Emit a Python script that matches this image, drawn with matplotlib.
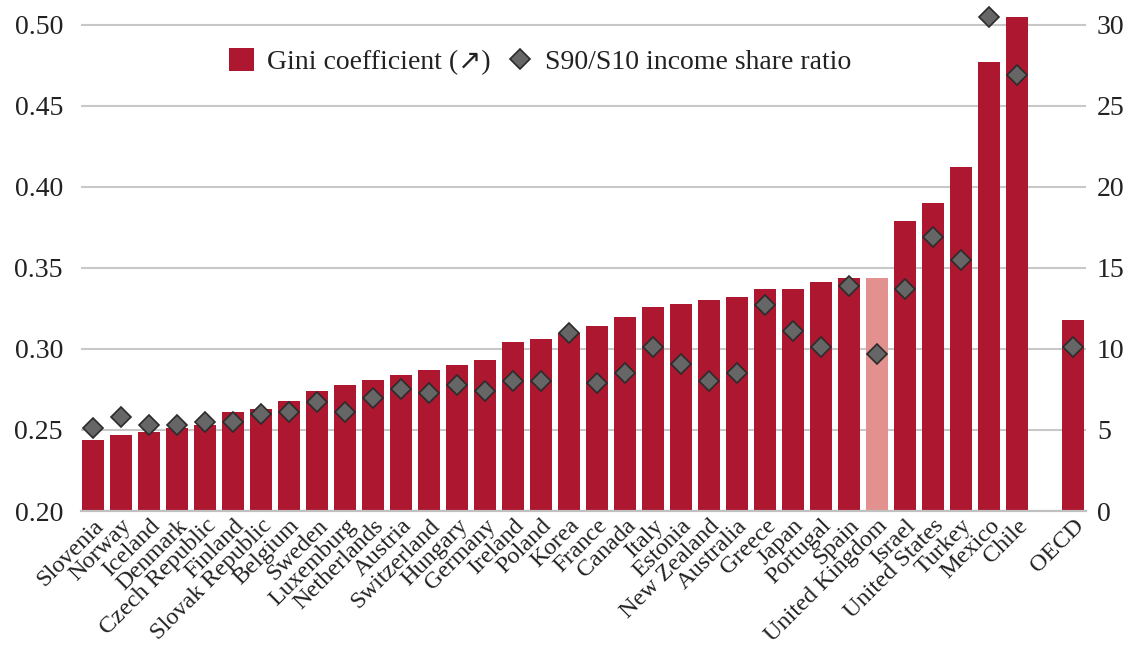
import matplotlib
matplotlib.use('Agg')
import matplotlib.pyplot as plt
from matplotlib.patches import Patch
from matplotlib.lines import Line2D

countries = ["Slovenia", "Norway", "Iceland", "Denmark", "Czech Republic", "Finland",
             "Slovak Republic", "Belgium", "Sweden", "Luxemburg", "Netherlands", "Austria",
             "Switzerland", "Hungary", "Germany", "Ireland", "Poland", "Korea", "France",
             "Canada", "Italy", "Estonia", "New Zealand", "Australia", "Greece", "Japan",
             "Portugal", "Spain", "United Kingdom", "Israel", "United States", "Turkey",
             "Mexico", "Chile", "OECD"]
gini = [0.244, 0.247, 0.249, 0.251, 0.253, 0.261, 0.263, 0.268, 0.274, 0.278, 0.281, 0.284,
        0.287, 0.290, 0.293, 0.304, 0.306, 0.310, 0.314, 0.320, 0.326, 0.328, 0.330, 0.332,
        0.337, 0.337, 0.341, 0.344, 0.344, 0.379, 0.390, 0.412, 0.477, 0.505, 0.318]
s90s10 = [5.1, 5.8, 5.3, 5.3, 5.5, 5.5, 6.0, 6.1, 6.7, 6.1, 7.0, 7.5,
          7.3, 7.8, 7.4, 8.0, 8.0, 11.0, 7.9, 8.5, 10.1, 9.1, 8.0, 8.5,
          12.7, 11.1, 10.1, 13.9, 9.7, 13.7, 16.9, 15.5, 30.5, 26.9, 10.1]
highlight = "United Kingdom"

# OECD average sits after a one-slot gap
pos = list(range(len(countries) - 1)) + [len(countries)]

red = '#AE1730'
pink = '#E3918E'
colors = [pink if c == highlight else red for c in countries]

plt.rcParams['font.family'] = ['Liberation Serif', 'DejaVu Sans']

fig = plt.figure(figsize=(11.3, 6.5), dpi=100)
ax = fig.add_axes([0.0717, 0.2138, 0.8893, 0.7855])
ax2 = ax.twinx()

ax.bar(pos, [g - 0.2 for g in gini], bottom=0.2, width=0.79, color=colors, zorder=2)
ax2.plot(pos, s90s10, linestyle='none', marker='D', markersize=10, markerfacecolor='#666666',
         markeredgecolor='#2b2b2b', markeredgewidth=1.2, clip_on=False, zorder=3)

ax.set_xlim(-0.43, 35.46)
ax.set_ylim(0.2, 0.515)
ax2.set_ylim(0, 31.5)
ax.set_yticks([0.20, 0.25, 0.30, 0.35, 0.40, 0.45, 0.50])
ax.set_yticklabels(['0.20', '0.25', '0.30', '0.35', '0.40', '0.45', '0.50'])
ax2.set_yticks([0, 5, 10, 15, 20, 25, 30])

ax.set_axisbelow(True)
ax.grid(axis='y', color='#c8c8c8', linewidth=1.5)
for a in (ax, ax2):
    for s in ('top', 'left', 'right'):
        a.spines[s].set_visible(False)
    a.spines['bottom'].set_color('#c0c0c0')
    a.spines['bottom'].set_linewidth(1.5)
ax.tick_params(axis='y', length=0, pad=13, labelsize=20, labelcolor='#222222')
ax2.tick_params(axis='y', length=0, pad=8, labelsize=20, labelcolor='#222222')

ax.set_xticks(pos)
ax.set_xticklabels(countries, rotation=45, ha='right', rotation_mode='anchor',
                   fontsize=17.5, color='#222222')
ax.tick_params(axis='x', length=0, pad=3)

handles = [Patch(facecolor=red, edgecolor='none'),
           Line2D([], [], linestyle='none', marker='D', markersize=10,
                  markerfacecolor='#666666', markeredgecolor='#2b2b2b', markeredgewidth=1.2)]
ax2.legend(handles, ['Gini coefficient (\u2197)', 'S90/S10 income share ratio'],
           loc='center', bbox_to_anchor=(0.478, 0.905), bbox_transform=fig.transFigure,
           ncol=2, frameon=False, fontsize=20, handlelength=0.9, handleheight=0.9,
           handletextpad=0.45, columnspacing=0.6, labelcolor='#222222')

plt.savefig('out.png')
